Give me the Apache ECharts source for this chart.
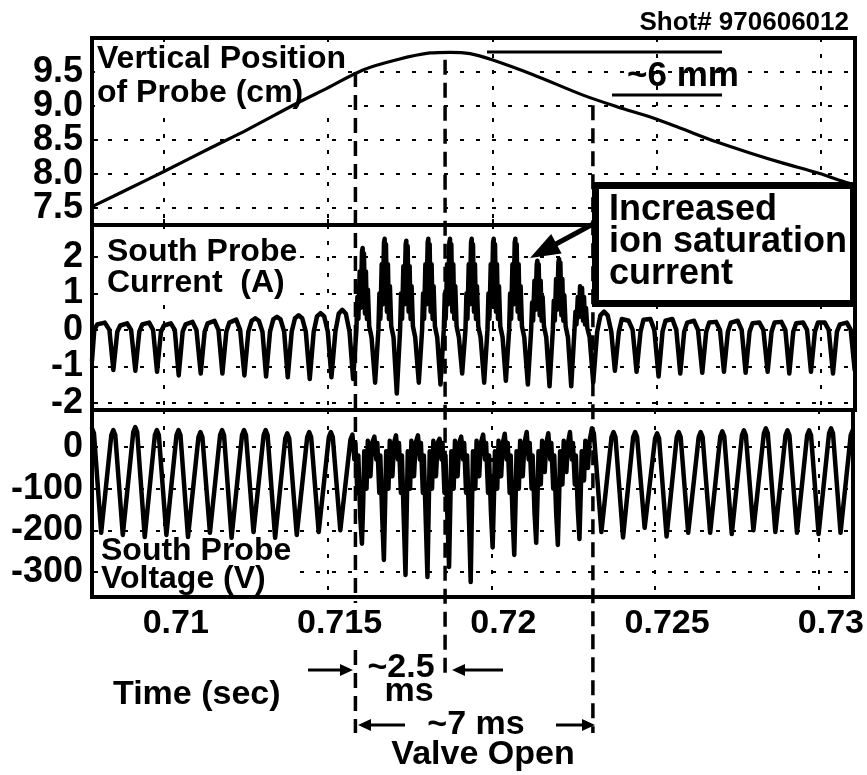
<!DOCTYPE html>
<html><head><meta charset="utf-8">
<script src="https://cdn.jsdelivr.net/npm/echarts@6/dist/echarts.min.js"></script>
<style>html,body{margin:0;padding:0;background:#fff}#chart{width:867px;height:775px}</style>
</head><body><div id="chart"></div>
<script>
const FONT = '"Liberation Sans", Arial, Helvetica, sans-serif';

// ---- axes (time in ms, labelled in seconds) ----
const timeRange = [707.81, 731.04];
const timeTicks = [710, 715, 720, 725, 730];
const timeTickLabels = ['0.71', '0.715', '0.72', '0.725', '0.73'];
const positionRange = [7.25, 10.0];
const positionTicks = [7.5, 8.0, 8.5, 9.0, 9.5];
const positionTickLabels = ['7.5', '8.0', '8.5', '9.0', '9.5'];
const currentRange = [-2.2, 2.88];
const currentTicks = [-2, -1, 0, 1, 2];
const currentTickLabels = ['-2', '-1', '0', '1', '2'];
const voltageRange = [-360, 89];
const voltageTicks = [-300, -200, -100, 0];
const voltageTickLabels = ['-300', '-200', '-100', '0'];

// ---- data: [time (ms), value] ----
const positionData = [
 [707.81,7.52],[708.96,7.79],[709.97,8.03],[711.49,8.40],[712.53,8.65],[714.05,9.04],[714.96,9.26],
 [716.06,9.53],[717.09,9.68],[718.10,9.78],[718.71,9.79],[719.32,9.77],[719.99,9.68],[721.24,9.46],
 [722.76,9.16],[723.79,8.99],[724.92,8.82],[725.80,8.66],[726.84,8.47],[727.84,8.31],[728.85,8.16],
 [729.94,8.01],[730.80,7.87],[731.04,7.84]
];

const currentBefore = [
 [707.81,-0.85],[707.88,0.0],[707.97,0.15],[708.20,0.2],[708.34,0.0],
 [708.46,-1.10],[708.58,-0.05],[708.67,0.12],[708.88,0.18],[709.00,0.0],
 [709.13,-1.12],[709.25,-0.05],[709.34,0.15],[709.55,0.2],[709.67,0.0],
 [709.79,-1.15],[709.91,-0.05],[710.00,0.12],[710.21,0.18],[710.33,0.0],
 [710.45,-1.25],[710.57,-0.05],[710.66,0.15],[710.87,0.22],[710.99,0.0],
 [711.12,-1.20],[711.24,-0.05],[711.33,0.18],[711.54,0.25],[711.66,0.0],
 [711.78,-1.20],[711.90,-0.05],[711.99,0.2],[712.20,0.28],[712.32,0.0],
 [712.45,-1.25],[712.57,-0.05],[712.67,0.25],[712.78,0.32],[712.89,0.25],[713.00,-0.05],
 [713.11,-1.28],[713.23,-0.05],[713.33,0.29],[713.44,0.36],[713.55,0.29],[713.66,-0.05],
 [713.77,-1.30],[713.89,-0.05],[713.99,0.32],[714.10,0.40],[714.21,0.32],[714.32,-0.05],
 [714.44,-1.35],[714.56,-0.05],[714.66,0.37],[714.77,0.46],[714.88,0.37],[714.99,-0.05],
 [715.10,-1.30],[715.22,-0.05],[715.32,0.44],[715.43,0.55],[715.54,0.44],[715.65,-0.05]
];
const currentValveOpen = [
 [715.76,-1.35],[715.86,0.0],[715.89,0.9],[715.92,0.3],[715.96,1.6],[715.99,0.6],[716.03,2.15],[716.05,2.25],[716.07,0.9],[716.09,2.1],[716.12,0.45],[716.15,1.6],[716.18,0.3],[716.21,1.1],[716.25,0.1],[716.32,-0.2],
 [716.43,-1.45],[716.53,0.0],[716.56,1.0],[716.59,0.3],[716.63,1.8],[716.66,0.7],[716.70,2.4],[716.72,2.5],[716.74,1.0],[716.76,2.35],[716.79,0.5],[716.82,1.8],[716.85,0.3],[716.88,1.2],[716.92,0.1],[716.99,-0.2],
 [717.09,-1.75],[717.19,0.0],[717.22,1.0],[717.25,0.3],[717.29,1.75],[717.32,0.7],[717.36,2.35],[717.38,2.45],[717.40,1.0],[717.42,2.3],[717.45,0.5],[717.48,1.75],[717.51,0.3],[717.54,1.2],[717.58,0.1],[717.65,-0.2],
 [717.76,-1.45],[717.86,0.0],[717.89,1.0],[717.92,0.3],[717.96,1.8],[717.99,0.7],[718.03,2.4],[718.05,2.5],[718.07,1.0],[718.09,2.35],[718.12,0.5],[718.15,1.8],[718.18,0.3],[718.21,1.2],[718.25,0.1],[718.32,-0.2],
 [718.42,-1.5],[718.52,0.0],[718.55,1.0],[718.58,0.3],[718.62,1.8],[718.65,0.7],[718.69,2.4],[718.71,2.5],[718.73,1.0],[718.75,2.35],[718.78,0.5],[718.81,1.8],[718.84,0.3],[718.87,1.2],[718.91,0.1],[718.98,-0.2],
 [719.08,-1.2],[719.18,0.0],[719.21,1.0],[719.24,0.3],[719.28,1.8],[719.31,0.7],[719.35,2.4],[719.37,2.5],[719.39,1.0],[719.41,2.35],[719.44,0.5],[719.47,1.8],[719.50,0.3],[719.53,1.2],[719.57,0.1],[719.64,-0.2],
 [719.75,-1.45],[719.85,0.0],[719.88,1.0],[719.91,0.3],[719.95,1.8],[719.98,0.7],[720.02,2.4],[720.04,2.5],[720.06,1.0],[720.08,2.35],[720.11,0.5],[720.14,1.8],[720.17,0.3],[720.20,1.2],[720.24,0.1],[720.31,-0.2],
 [720.41,-1.4],[720.51,0.0],[720.54,1.0],[720.57,0.3],[720.61,1.8],[720.64,0.7],[720.68,2.4],[720.70,2.5],[720.72,1.0],[720.74,2.35],[720.77,0.5],[720.80,1.8],[720.83,0.3],[720.86,1.2],[720.90,0.1],[720.97,-0.2],
 [721.08,-1.5],[721.18,0.0],[721.21,0.75],[721.24,0.25],[721.28,1.35],[721.31,0.55],[721.35,1.8],[721.37,1.9],[721.39,0.75],[721.41,1.8],[721.44,0.4],[721.47,1.35],[721.50,0.25],[721.53,0.9],[721.57,0.1],[721.64,-0.2],
 [721.74,-1.55],[721.84,0.0],[721.87,0.8],[721.90,0.25],[721.94,1.4],[721.97,0.55],[722.01,1.85],[722.03,1.95],[722.05,0.8],[722.07,1.85],[722.10,0.4],[722.13,1.4],[722.16,0.25],[722.19,0.95],[722.23,0.1],[722.30,-0.2],
 [722.40,-1.55],[722.50,0.0],[722.53,0.5],[722.56,0.15],[722.60,0.9],[722.63,0.35],[722.67,1.2],[722.69,1.25],[722.71,0.5],[722.73,1.15],[722.76,0.25],[722.79,0.9],[722.82,0.15],[722.85,0.6],[722.89,0.05],[722.96,-0.2]
];
const currentAfter = [
 [723.07,-1.45],[723.19,-0.05],[723.29,0.4],[723.40,0.5],[723.51,0.4],[723.62,-0.05],
 [723.73,-1.12],[723.85,-0.05],[723.94,0.3],[724.15,0.25],[724.27,0.0],
 [724.39,-1.15],[724.51,-0.05],[724.60,0.28],[724.81,0.3],[724.93,0.0],
 [725.06,-1.28],[725.18,-0.05],[725.27,0.25],[725.48,0.3],[725.60,0.0],
 [725.72,-1.2],[725.84,-0.05],[725.93,0.2],[726.14,0.25],[726.26,0.0],
 [726.39,-1.18],[726.51,-0.05],[726.60,0.2],[726.81,0.22],[726.93,0.0],
 [727.05,-1.15],[727.17,-0.05],[727.26,0.2],[727.47,0.25],[727.59,0.0],
 [727.71,-1.18],[727.83,-0.05],[727.92,0.18],[728.13,0.2],[728.25,0.0],
 [728.38,-1.15],[728.50,-0.05],[728.59,0.2],[728.80,0.22],[728.92,0.0],
 [729.04,-1.2],[729.16,-0.05],[729.25,0.18],[729.46,0.2],[729.58,0.0],
 [729.70,-1.15],[729.82,-0.05],[729.91,0.2],[730.12,0.2],[730.24,0.0],
 [730.37,-1.2],[730.49,-0.05],[730.58,0.15],[730.79,0.2],[730.91,0.0],
 [731.03,-1.1]
];

const voltageBefore = [
 [707.81,45],[707.87,33],[708.09,-206],
 [708.40,29],[708.46,41],[708.52,29],[708.75,-211],
 [709.07,36],[709.13,48],[709.19,36],[709.42,-216],
 [709.73,29],[709.79,41],[709.85,29],[710.08,-211],
 [710.39,29],[710.45,41],[710.51,29],[710.74,-216],
 [711.06,24],[711.12,36],[711.18,24],[711.41,-206],
 [711.72,29],[711.78,41],[711.84,29],[712.07,-218],
 [712.39,29],[712.45,41],[712.51,29],[712.74,-204],
 [713.05,29],[713.11,41],[713.17,29],[713.40,-218],
 [713.71,21],[713.77,33],[713.83,21],[714.06,-211],
 [714.38,24],[714.44,36],[714.50,24],[714.73,-204],
 [715.04,24],[715.10,36],[715.16,24],[715.39,-200],
 [715.70,18]
];
const voltageValveOpen = [
 [715.76,30],[715.82,-30],[715.85,10],[715.91,-110],[715.94,-20],[716.00,-170],[716.05,-232],[716.09,-130],[716.12,-10],[716.19,-100],[716.23,15],[716.31,-70],[716.36,10],
 [716.43,25],[716.49,-30],[716.52,10],[716.58,-110],[716.61,-20],[716.67,-170],[716.72,-271],[716.76,-130],[716.79,-10],[716.86,-100],[716.90,15],[716.98,-70],[717.03,10],
 [717.09,28],[717.15,-30],[717.18,10],[717.24,-110],[717.27,-20],[717.33,-180],[717.38,-307],[717.42,-140],[717.45,-10],[717.52,-100],[717.56,15],[717.64,-70],[717.69,10],
 [717.76,28],[717.82,-30],[717.85,10],[717.91,-110],[717.94,-20],[718.00,-180],[718.05,-312],[718.09,-140],[718.12,-10],[718.19,-100],[718.23,15],[718.31,-70],[718.36,10],
 [718.42,20],[718.48,-30],[718.51,10],[718.57,-110],[718.60,-20],[718.66,-170],[718.71,-288],[718.75,-130],[718.78,-10],[718.85,-100],[718.89,15],[718.97,-70],[719.02,10],
 [719.08,25],[719.14,-30],[719.17,10],[719.23,-110],[719.26,-20],[719.32,-180],[719.37,-324],[719.41,-140],[719.44,-10],[719.51,-100],[719.55,15],[719.63,-70],[719.68,10],
 [719.75,30],[719.81,-30],[719.84,10],[719.90,-110],[719.93,-20],[719.99,-160],[720.04,-241],[720.08,-120],[720.11,-10],[720.18,-100],[720.22,15],[720.30,-70],[720.35,10],
 [720.41,32],[720.47,-30],[720.50,10],[720.56,-110],[720.59,-20],[720.65,-170],[720.70,-259],[720.74,-130],[720.77,-10],[720.84,-100],[720.88,15],[720.96,-70],[721.01,10],
 [721.08,36],[721.14,-30],[721.17,10],[721.23,-100],[721.26,-20],[721.32,-160],[721.37,-230],[721.41,-120],[721.44,-10],[721.51,-90],[721.55,15],[721.63,-60],[721.68,10],
 [721.74,33],[721.80,-30],[721.83,10],[721.89,-100],[721.92,-20],[721.98,-160],[722.03,-235],[722.07,-120],[722.10,-10],[722.17,-90],[722.21,15],[722.29,-60],[722.34,10],
 [722.40,36],[722.46,-30],[722.49,10],[722.55,-90],[722.58,-20],[722.64,-150],[722.69,-221],[722.73,-110],[722.76,-10],[722.83,-80],[722.87,15],[722.95,-50],[723.00,15]
];
const voltageAfter = [
 [723.07,45],[723.13,33],[723.36,-204],
 [723.67,24],[723.73,36],[723.79,24],[724.02,-217],
 [724.33,24],[724.39,36],[724.45,24],[724.68,-194],
 [725.00,21],[725.06,33],[725.12,21],[725.35,-215],
 [725.66,24],[725.72,36],[725.78,24],[726.01,-206],
 [726.33,24],[726.39,36],[726.45,24],[726.68,-206],
 [726.99,26],[727.05,38],[727.11,26],[727.34,-209],
 [727.65,28],[727.71,40],[727.77,28],[728.00,-200],
 [728.32,33],[728.38,45],[728.44,33],[728.67,-204],
 [728.98,28],[729.04,40],[729.10,28],[729.33,-206],
 [729.64,28],[729.70,40],[729.76,28],[729.99,-209],
 [730.31,33],[730.37,45],[730.43,33],[730.66,-206],
 [730.97,28],[731.03,40]
];

// valve timing markers: time (ms), top (cm on position panel), bottom (px), optional gap (px)
const valveLines = [
 {time: 715.83, topCm: 9.50, bottomPx: 733, gap: [603, 650]},
 {time: 718.56, topCm: 9.68, bottomPx: 676},
 {time: 723.06, topCm: 9.01, bottomPx: 733}
];

// ---- layout ----
const grids = [
 {left: 92, right: 12, top: 38, height: 187},
 {left: 92, right: 12, top: 225, height: 185},
 {left: 92, right: 12, top: 410, height: 187}
];
function fmt(ticks, labels) {
  return function (v) {
    for (let i = 0; i < ticks.length; i++) if (Math.abs(ticks[i] - v) < 1e-6) return labels[i];
    return '';
  };
}
const gridLine = {show: true, lineStyle: {color: '#000', width: 2, type: [4, 12]}};
const tick = {show: true, inside: true, length: 6, lineStyle: {color: '#000', width: 2}};
const xLabelFont = {fontSize: 34, fontWeight: 'bold', fontFamily: FONT, color: '#000'};
const yLabelFont = {fontSize: 36, fontWeight: 'bold', fontFamily: FONT, color: '#000'};

const xAxes = grids.map((g, i) => ({
  type: 'value', gridIndex: i, min: timeRange[0], max: timeRange[1], splitNumber: 5,
  axisLine: {show: false}, axisTick: tick, splitLine: gridLine,
  axisLabel: Object.assign({show: i === 2, margin: 10, padding: [0, 0, 0, 24],
    showMinLabel: false, showMaxLabel: false, formatter: fmt(timeTicks, timeTickLabels)}, xLabelFont)
}));
const yDefs = [
  [positionRange, positionTicks, positionTickLabels],
  [currentRange, currentTicks, currentTickLabels],
  [voltageRange, voltageTicks, voltageTickLabels]
];
const yAxes = yDefs.map((d, i) => ({
  type: 'value', gridIndex: i, min: d[0][0], max: d[0][1], splitNumber: 5,
  axisLine: {show: false}, axisTick: tick, splitLine: gridLine,
  axisLabel: Object.assign({show: true, margin: 9, showMinLabel: false, showMaxLabel: false,
    formatter: fmt(d[1], d[2])}, yLabelFont)
}));

const lineSeries = (idx, data, width, smooth) => ({
  type: 'line', xAxisIndex: idx, yAxisIndex: idx, data: data, symbol: 'none', smooth: smooth,
  lineStyle: {color: '#000', width: width, join: 'round', cap: 'round'}, z: 3, silent: true, animation: false
});

const option = {
  animation: false,
  backgroundColor: '#fff',
  grid: grids.map(g => Object.assign({show: true, borderColor: '#000', borderWidth: 4, backgroundColor: 'transparent'}, g)),
  xAxis: xAxes,
  yAxis: yAxes,
  series: [
    lineSeries(0, positionData, 3.2, 0.3),
    lineSeries(1, currentBefore.concat(currentValveOpen, currentAfter), 4.5, false),
    lineSeries(2, voltageBefore.concat(voltageValveOpen, voltageAfter), 4.5, false)
  ]
};

const chart = echarts.init(document.getElementById('chart'), null, {renderer: 'canvas', width: 867, height: 775});
chart.setOption(option);

// ---- annotations ----
const els = [];
function txt(text, x, y, size, align, opts) {
  opts = opts || {};
  const st = {text: text, x: x, y: y, fill: '#000',
    font: 'bold ' + size + 'px ' + FONT, textAlign: align || 'left', textVerticalAlign: 'middle'};
  if (opts.lineHeight) st.lineHeight = opts.lineHeight;
  if (opts.bg) { st.backgroundColor = '#fff'; st.padding = [0, 2, 0, 2]; }
  els.push({type: 'text', z: opts.z || 60, style: st, silent: true});
}
function arrow(x1, y1, x2, y2, headLen, headHalf, w, z) {
  const dx = x2 - x1, dy = y2 - y1, L = Math.hypot(dx, dy), ux = dx / L, uy = dy / L;
  const bx = x2 - ux * headLen, by = y2 - uy * headLen;
  els.push({type: 'line', z: z || 60, shape: {x1: x1, y1: y1, x2: bx + ux, y2: by + uy}, style: {stroke: '#000', lineWidth: w}, silent: true});
  els.push({type: 'polygon', z: z || 60, shape: {points: [[x2, y2], [bx - uy * headHalf, by + ux * headHalf], [bx + uy * headHalf, by - ux * headHalf]]}, style: {fill: '#000'}, silent: true});
}
function dashed(x, y1, y2) {
  els.push({type: 'line', z: 50, shape: {x1: x, y1: y1, x2: x, y2: y2},
    style: {stroke: '#000', lineWidth: 3.5, lineDash: [15, 8]}, silent: true});
}

valveLines.forEach(l => {
  const p = chart.convertToPixel({gridIndex: 0}, [l.time, l.topCm]);
  if (l.gap) { dashed(p[0], p[1], l.gap[0]); dashed(p[0], l.gap[1], l.bottomPx); }
  else dashed(p[0], p[1], l.bottomPx);
});

txt('Shot# 970606012', 849, 23, 26, 'right');
txt('Vertical Position\nof Probe (cm)', 95, 76, 32, 'left', {lineHeight: 34, bg: true, z: 1});
txt('South Probe\nCurrent  (A)', 105, 268, 32, 'left', {lineHeight: 31, bg: true, z: 1});
txt('South Probe\nVoltage (V)', 99, 565, 32, 'left', {lineHeight: 28, bg: true, z: 1});

// ~6 mm marker
els.push({type: 'line', z: 60, shape: {x1: 487, y1: 52, x2: 722, y2: 52}, style: {stroke: '#000', lineWidth: 3}, silent: true});
els.push({type: 'line', z: 60, shape: {x1: 612, y1: 95, x2: 722, y2: 95}, style: {stroke: '#000', lineWidth: 3}, silent: true});
txt('~6 mm', 683, 76, 35, 'center');

// box
els.push({type: 'rect', z: 70, shape: {x: 595.5, y: 185.5, width: 258, height: 118},
  style: {fill: '#fff', stroke: '#000', lineWidth: 7}, silent: true});
txt('Increased\nion saturation\ncurrent', 609, 242, 36, 'left', {lineHeight: 32, z: 71});
arrow(593, 224, 530, 258, 30, 11, 5, 72);

// bottom annotations
txt('Time (sec)', 113, 695, 34, 'left');
txt('~2.5', 401, 668, 34, 'center');
txt('ms', 409, 692, 34, 'center');
txt('~7 ms', 476, 725, 34, 'center');
txt('Valve Open', 483, 755, 34, 'center');
arrow(308, 670, 353, 670, 13, 6, 3);
arrow(503, 670, 452, 670, 13, 6, 3);
arrow(405, 725, 358, 725, 13, 6, 3);
arrow(556, 725, 595, 725, 13, 6, 3);

chart.setOption({graphic: {elements: els}});
</script></body></html>
